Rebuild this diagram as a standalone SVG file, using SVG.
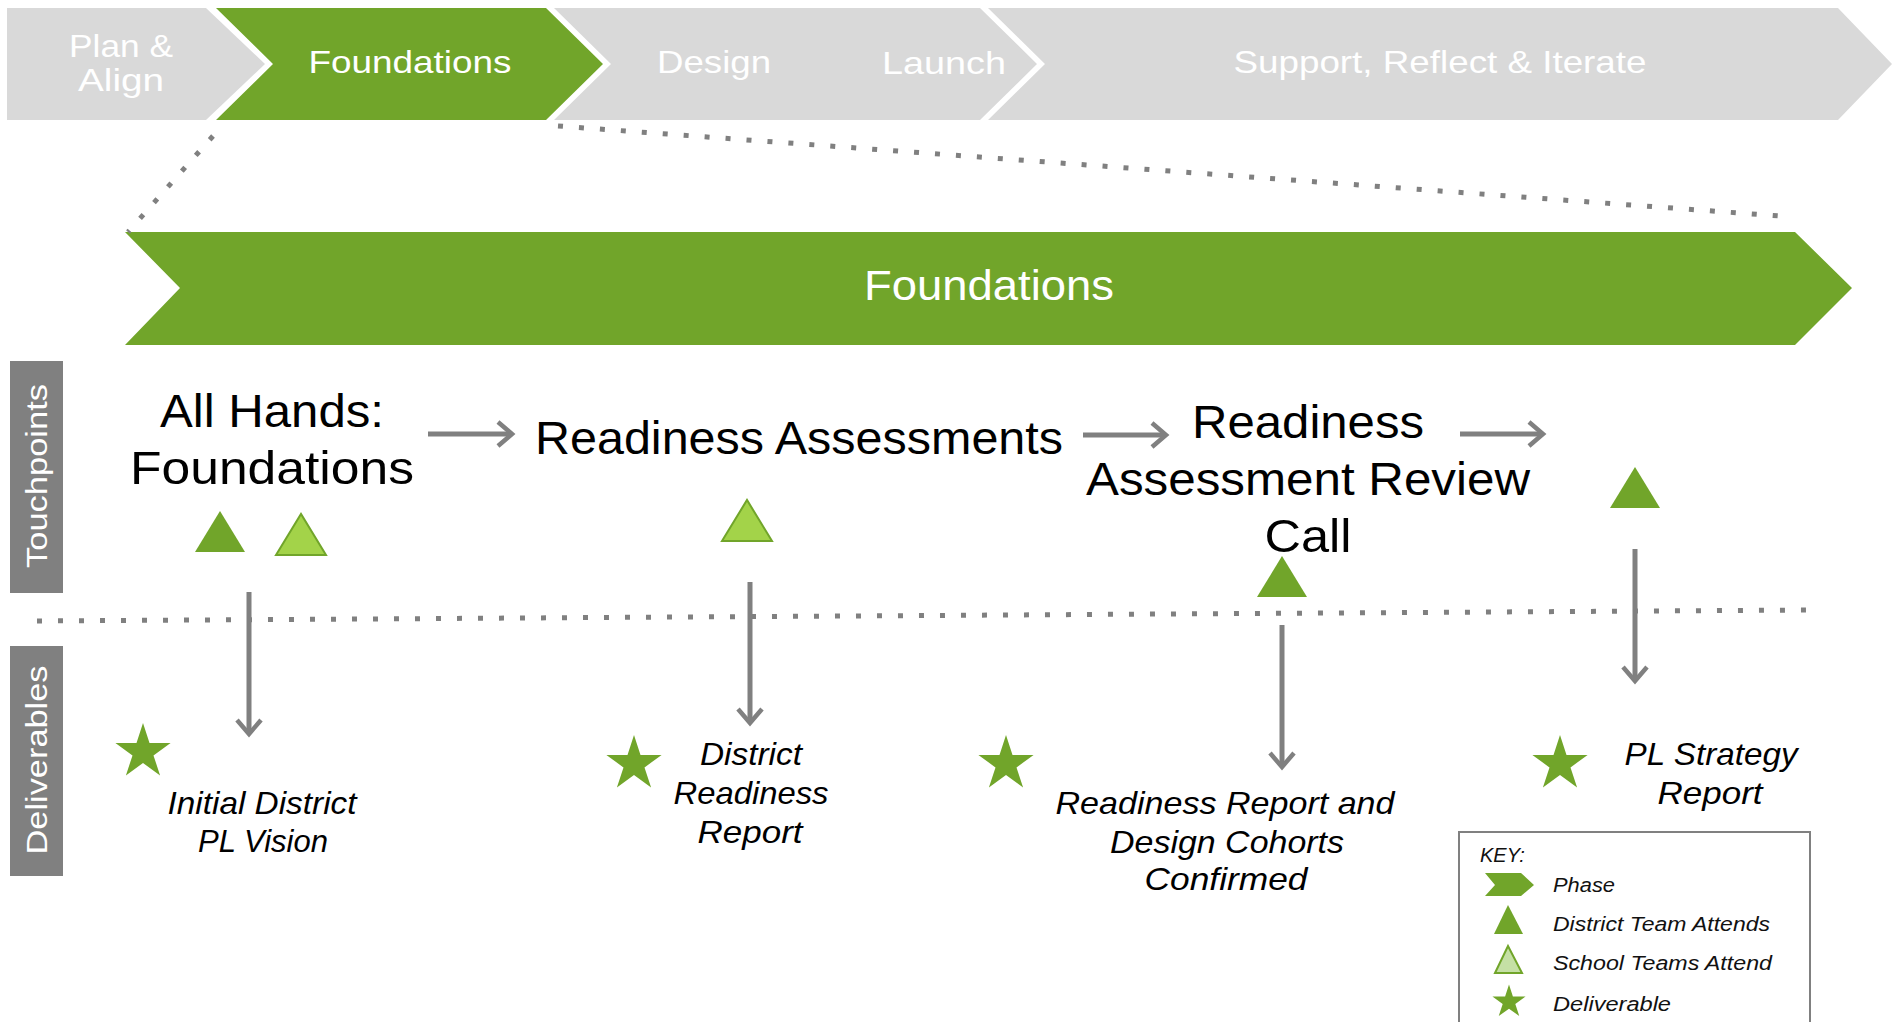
<svg xmlns="http://www.w3.org/2000/svg" width="1902" height="1022" viewBox="0 0 1902 1022">
<style>
.bar{font-family:"Liberation Sans",Arial,sans-serif;font-size:32px;fill:#fff;text-anchor:middle}
.main{font-family:"Liberation Sans",Arial,sans-serif;font-size:46px;fill:#000;text-anchor:middle}
.del{font-family:"Liberation Sans",Arial,sans-serif;font-size:32px;font-style:italic;fill:#000;text-anchor:middle}
.key{font-family:"Liberation Sans",Arial,sans-serif;font-size:20px;font-style:italic;fill:#111}
.side{font-family:"Liberation Sans",Arial,sans-serif;font-size:30px;fill:#fff;text-anchor:middle}
.dots{stroke:#808080;stroke-width:5;stroke-dasharray:5 16;fill:none}
.conn{stroke:#808080;stroke-width:5;fill:none}
.green{fill:#71A52A}
.light{fill:#A3D349;stroke:#71A52A;stroke-width:2}
</style>
<defs>
<marker id="ah" markerUnits="userSpaceOnUse" markerWidth="26" markerHeight="30" refX="17" refY="15" orient="auto">
<path d="M3,3 L17,15 L3,27" fill="none" stroke="#808080" stroke-width="4.5"/>
</marker>
<path id="star" d="M0,-29 L6.5,-9 L27.6,-9 L10.5,3.4 L17.1,23.5 L0,11.1 L-17.1,23.5 L-10.5,3.4 L-27.6,-9 L-6.5,-9 Z"/>
<path id="tri" d="M-25,0 L0,-41 L25,0 Z"/>
</defs>

<!-- Top phase bar -->
<g id="phase-plan">
<polygon points="7,8 206,8 265,64 206,120 7,120" fill="#D9D9D9"/>
<text class="bar" x="121" y="57" font-size="35" textLength="104" lengthAdjust="spacingAndGlyphs">Plan &amp;</text>
<text class="bar" x="121" y="91" font-size="35" textLength="86" lengthAdjust="spacingAndGlyphs">Align</text>
</g>
<g id="phase-foundations">
<polygon points="216,8 546,8 603,64 546,120 216,120 273,64" class="green"/>
<text class="bar" x="410" y="73" textLength="203" lengthAdjust="spacingAndGlyphs">Foundations</text>
</g>
<g id="phase-design-launch">
<polygon points="554,8 980,8 1037,64 980,120 554,120 611,64" fill="#D9D9D9"/>
<text class="bar" x="714" y="73" textLength="114" lengthAdjust="spacingAndGlyphs">Design</text>
<text class="bar" x="944" y="74" textLength="124" lengthAdjust="spacingAndGlyphs">Launch</text>
</g>
<g id="phase-support">
<polygon points="988,8 1838,8 1892,64 1838,120 988,120 1045,64" fill="#D9D9D9"/>
<text class="bar" x="1440" y="73" textLength="413" lengthAdjust="spacingAndGlyphs">Support, Reflect &amp; Iterate</text>
</g>

<!-- Main foundations band -->
<g id="band-foundations">
<polygon points="125,232 1795,232 1852,288 1795,345 125,345 180,288" class="green"/>
<text x="989" y="300" font-family="Liberation Sans, Arial, sans-serif" font-size="42" fill="#fff" text-anchor="middle" textLength="250" lengthAdjust="spacingAndGlyphs">Foundations</text>
</g>

<!-- Side labels -->
<g id="label-touchpoints">
<rect x="10" y="361" width="53" height="232" fill="#808080"/>
<text class="side" transform="translate(47,476) rotate(-90)" textLength="184" lengthAdjust="spacingAndGlyphs">Touchpoints</text>
</g>
<g id="label-deliverables">
<rect x="10" y="646" width="53" height="230" fill="#808080"/>
<text class="side" transform="translate(47,760) rotate(-90)" textLength="189" lengthAdjust="spacingAndGlyphs">Deliverables</text>
</g>

<!-- Touchpoints -->
<g id="tp-allhands">
<text class="main" x="272" y="427" textLength="224" lengthAdjust="spacingAndGlyphs">All Hands:</text>
<text class="main" x="272" y="484" textLength="284" lengthAdjust="spacingAndGlyphs">Foundations</text>
<use href="#tri" x="220" y="552" class="green"/>
<use href="#tri" x="301" y="555" class="light"/>
</g>
<g id="tp-readiness-assessments">
<text class="main" x="799" y="454" textLength="528" lengthAdjust="spacingAndGlyphs">Readiness Assessments</text>
<use href="#tri" x="747" y="541" class="light"/>
</g>
<g id="tp-review-call">
<text class="main" x="1308" y="438" textLength="232" lengthAdjust="spacingAndGlyphs">Readiness</text>
<text class="main" x="1308" y="495" textLength="444" lengthAdjust="spacingAndGlyphs">Assessment Review</text>
<text class="main" x="1308" y="552" textLength="87" lengthAdjust="spacingAndGlyphs">Call</text>
<use href="#tri" x="1282" y="597" class="green"/>
</g>
<g id="tp-final">
<use href="#tri" x="1635" y="508" class="green"/>
</g>

<!-- Deliverables -->
<g id="del-vision">
<use href="#star" x="143" y="752" class="green"/>
<text class="del" x="262" y="814" textLength="189" lengthAdjust="spacingAndGlyphs">Initial District</text>
<text class="del" x="263" y="852" textLength="130" lengthAdjust="spacingAndGlyphs">PL Vision</text>
</g>
<g id="del-district-readiness">
<use href="#star" x="634" y="764" class="green"/>
<text class="del" x="751" y="765" textLength="102" lengthAdjust="spacingAndGlyphs">District</text>
<text class="del" x="751" y="804" textLength="155" lengthAdjust="spacingAndGlyphs">Readiness</text>
<text class="del" x="750" y="843" textLength="105" lengthAdjust="spacingAndGlyphs">Report</text>
</g>
<g id="del-cohorts">
<use href="#star" x="1006" y="764" class="green"/>
<text class="del" x="1225" y="814" textLength="339" lengthAdjust="spacingAndGlyphs">Readiness Report and</text>
<text class="del" x="1227" y="853" textLength="234" lengthAdjust="spacingAndGlyphs">Design Cohorts</text>
<text class="del" x="1226" y="890" textLength="163" lengthAdjust="spacingAndGlyphs">Confirmed</text>
</g>
<g id="del-strategy">
<use href="#star" x="1560" y="764" class="green"/>
<text class="del" x="1711" y="765" textLength="173" lengthAdjust="spacingAndGlyphs">PL Strategy</text>
<text class="del" x="1710" y="804" textLength="105" lengthAdjust="spacingAndGlyphs">Report</text>
</g>

<!-- Connectors -->
<g id="connectors">
<line class="dots" x1="213" y1="136" x2="128" y2="232"/>
<line class="dots" x1="558" y1="126" x2="1780" y2="216"/>
<line class="dots" x1="37" y1="621" x2="1815" y2="610"/>
<line class="conn" x1="428" y1="434" x2="512" y2="434" marker-end="url(#ah)"/>
<line class="conn" x1="1083" y1="435" x2="1166" y2="435" marker-end="url(#ah)"/>
<line class="conn" x1="1460" y1="434" x2="1543" y2="434" marker-end="url(#ah)"/>
<line class="conn" x1="249" y1="592" x2="249" y2="734" marker-end="url(#ah)"/>
<line class="conn" x1="750" y1="582" x2="750" y2="723" marker-end="url(#ah)"/>
<line class="conn" x1="1282" y1="625" x2="1282" y2="767" marker-end="url(#ah)"/>
<line class="conn" x1="1635" y1="549" x2="1635" y2="681" marker-end="url(#ah)"/>
</g>

<!-- Key -->
<g id="key">
<rect x="1459" y="832" width="351" height="200" fill="#fff" stroke="#808080" stroke-width="2"/>
<text class="key" x="1480" y="862" font-size="18">KEY:</text>
<polygon points="1485,873 1521,873 1534,885 1521,896 1485,896 1495,885" class="green"/>
<text class="key" x="1553" y="892" textLength="62" lengthAdjust="spacingAndGlyphs">Phase</text>
<polygon points="1494,934 1508,905 1523,934" class="green"/>
<text class="key" x="1553" y="931" textLength="217" lengthAdjust="spacingAndGlyphs">District Team Attends</text>
<polygon points="1495,973 1508,946 1522,973" fill="#C5E0A5" stroke="#71A52A" stroke-width="2"/>
<text class="key" x="1553" y="970" textLength="219" lengthAdjust="spacingAndGlyphs">School Teams Attend</text>
<use href="#star" transform="translate(1509,1002) scale(0.6)" class="green"/>
<text class="key" x="1553" y="1011" textLength="118" lengthAdjust="spacingAndGlyphs">Deliverable</text>
</g>
</svg>
